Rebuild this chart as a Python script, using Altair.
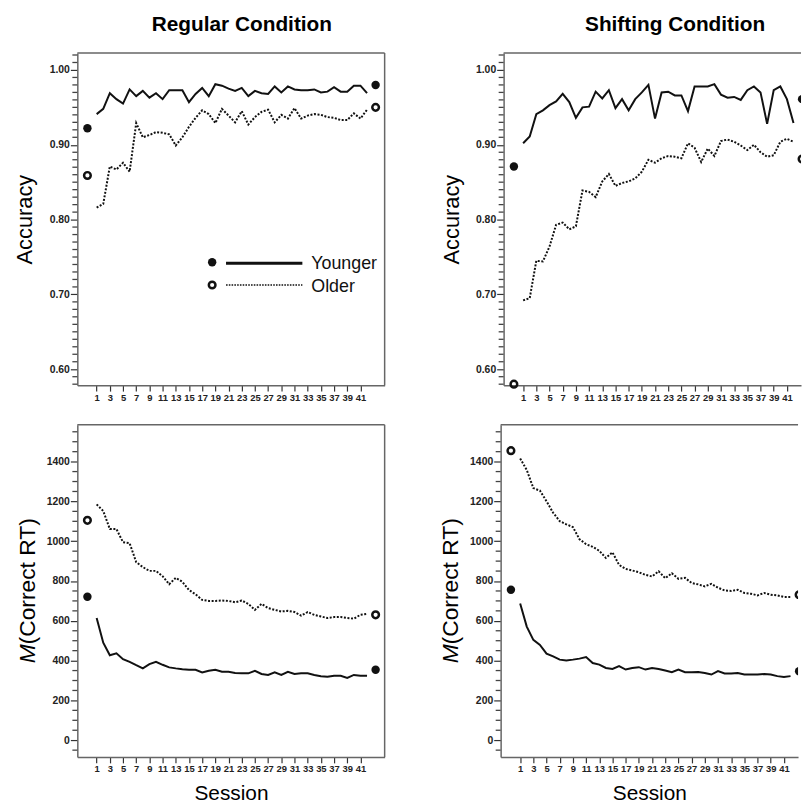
import altair as alt
import pandas as pd

# ---------------- data ----------------
sessions = list(range(1, 43))
x_tick_labels = list(range(1, 42, 2))
pre_x = -0.4
post_x = 43.3
group_labels = ["Younger", "Older"]

reg_acc_young = [0.941, 0.948, 0.969, 0.961, 0.955, 0.974, 0.965, 0.972, 0.963, 0.969,
                 0.961, 0.973, 0.973, 0.973, 0.957, 0.968, 0.976, 0.965, 0.981, 0.979,
                 0.975, 0.972, 0.976, 0.965, 0.972, 0.969, 0.968, 0.978, 0.970, 0.978,
                 0.974, 0.973, 0.973, 0.974, 0.970, 0.971, 0.977, 0.971, 0.971, 0.979,
                 0.979, 0.969]
reg_acc_old = [0.816, 0.821, 0.871, 0.867, 0.876, 0.864, 0.929, 0.910, 0.913, 0.917,
               0.916, 0.914, 0.899, 0.910, 0.924, 0.936, 0.946, 0.941, 0.929, 0.948,
               0.939, 0.930, 0.945, 0.927, 0.937, 0.944, 0.947, 0.930, 0.940, 0.935,
               0.949, 0.935, 0.939, 0.941, 0.940, 0.937, 0.936, 0.933, 0.933, 0.942,
               0.935, 0.947]
shift_acc_young = [0.902, 0.911, 0.941, 0.946, 0.953, 0.958, 0.968, 0.957, 0.936, 0.950,
                   0.951, 0.971, 0.962, 0.973, 0.949, 0.961, 0.946, 0.961, 0.970, 0.980,
                   0.935, 0.970, 0.971, 0.966, 0.966, 0.945, 0.978, 0.978, 0.978, 0.981,
                   0.967, 0.963, 0.964, 0.960, 0.973, 0.978, 0.970, 0.928, 0.973, 0.978,
                   0.961, 0.929]
shift_acc_old = [0.692, 0.695, 0.745, 0.744, 0.764, 0.793, 0.796, 0.787, 0.791, 0.839,
                 0.837, 0.830, 0.851, 0.861, 0.845, 0.849, 0.851, 0.855, 0.864, 0.880,
                 0.876, 0.882, 0.885, 0.884, 0.882, 0.902, 0.896, 0.877, 0.895, 0.885,
                 0.905, 0.907, 0.904, 0.899, 0.893, 0.900, 0.890, 0.884, 0.886, 0.904,
                 0.908, 0.904]
reg_rt_young = [614, 490, 427, 437, 407, 394, 377, 361, 382, 394,
                379, 366, 361, 357, 354, 354, 341, 349, 354, 344,
                344, 338, 336, 336, 349, 333, 328, 341, 328, 344,
                333, 336, 336, 328, 321, 319, 324, 324, 313, 328,
                324, 324]
reg_rt_old = [1185, 1152, 1061, 1061, 995, 990, 895, 870, 851, 851,
              824, 784, 816, 796, 755, 733, 705, 700, 700, 702,
              700, 693, 702, 685, 655, 685, 664, 655, 647, 650,
              644, 626, 644, 630, 622, 614, 619, 619, 614, 611,
              630, 635]
shift_rt_young = [687, 571, 504, 479, 435, 421, 405, 401, 405, 410,
                  418, 388, 380, 363, 358, 372, 355, 363, 367, 355,
                  363, 358, 350, 342, 355, 342, 342, 343, 338, 330,
                  347, 335, 335, 338, 330, 330, 330, 333, 330, 322,
                  318, 322]
shift_rt_old = [1416, 1358, 1267, 1254, 1201, 1143, 1101, 1085, 1071, 1010,
                985, 972, 952, 916, 944, 881, 861, 853, 844, 831,
                823, 849, 814, 839, 811, 816, 790, 783, 773, 786,
                766, 753, 750, 756, 740, 736, 728, 740, 731, 728,
                720, 720]

# pre / post markers: [younger, older]
reg_acc_pre = [0.922, 0.859]
reg_acc_post = [0.980, 0.950]
shift_acc_pre = [0.871, 0.580]
shift_acc_post = [0.961, 0.881]
reg_rt_pre = [721, 1105]
reg_rt_post = [354, 630]
shift_rt_pre = [756, 1455]
shift_rt_post = [347, 731]

# axis tick values
acc_major = [0.60, 0.70, 0.80, 0.90, 1.00]
acc_minor = [round(0.58 + 0.01 * i, 2) for i in range(45)]
rt_major = [0, 200, 400, 600, 800, 1000, 1200, 1400]
rt_minor = list(range(-50, 1551, 50))

# ---------------- style ----------------
TICK_FONT = "Liberation Sans Narrow, Arial Narrow, Liberation Sans, Arial, sans-serif"
TEXT_FONT = "Liberation Sans, Arial, Helvetica, sans-serif"
INK = "#111111"
FRAME = "#666666"
H = 335
W_LEFT = 310
W_RIGHT = 300
XDOM_LEFT = [-1.93, 44.67]
XDOM_RIGHT = [-1.96, 43.14]

one = pd.DataFrame({"k": [0]})


def panel(young, old, pre, post, kind, xdom, width, title, title_dx,
          show_xtitle, legend, frame_right, clip_post):
    if kind == "acc":
        ydom = [0.5787, 1.0226]
        majors, minors = acc_major, acc_minor
        fmt = ".2f"
        ytitle = "Accuracy"
    else:
        ydom = [-84, 1585]
        majors, minors = rt_major, rt_minor
        fmt = "d"
        ytitle = None

    yaxis = alt.Axis(
        values=majors, format=fmt, tickSize=7,
        title=ytitle, titleFont=TEXT_FONT, titleFontSize=22, titleFontWeight="normal",
        titleColor="black", titlePadding=11,
        labelFont=TICK_FONT, labelFontSize=10.5, labelFontWeight="bold", labelColor="#222222",
        labelPadding=1, labelOverlap=False, minExtent=30, maxExtent=30, grid=False,
        domainColor=FRAME, domainWidth=1.5, tickColor="#333333", tickWidth=1.2,
    )
    xaxis = alt.Axis(
        values=x_tick_labels, format="d",
        title="Session" if show_xtitle else None,
        titleFont=TEXT_FONT, titleFontSize=21, titleFontWeight="normal", titleColor="black",
        titlePadding=9,
        labelFont=TICK_FONT, labelFontSize=9.5, labelFontWeight="bold", labelColor="#222222",
        labelPadding=1, labelOverlap=False, labelFlush=False, tickSize=6, grid=False,
        domainColor=FRAME, domainWidth=1.5, tickColor="#333333", tickWidth=1.2,
    )
    yscale = alt.Scale(domain=ydom, nice=False, zero=False)
    X = alt.X("session:Q", scale=alt.Scale(domain=xdom, nice=False, zero=False), axis=xaxis)
    Y = alt.Y("v:Q", scale=yscale, axis=yaxis)

    df_y = pd.DataFrame({"session": sessions, "v": young})
    df_o = pd.DataFrame({"session": sessions, "v": old})
    df_minor = pd.DataFrame({"v": [m for m in minors if m not in majors]})
    layers = []
    layers.append(alt.Chart(one).mark_rule(color=FRAME, strokeWidth=1.5).encode(
        x=alt.value(0), x2=alt.value(width), y=alt.value(0)))
    if frame_right:
        layers.append(alt.Chart(one).mark_rule(color=FRAME, strokeWidth=1.5).encode(
            x=alt.value(width), y=alt.value(0), y2=alt.value(H)))
    layers.append(alt.Chart(df_minor).mark_tick(
        color="#444444", thickness=1.3, size=5, orient="horizontal", opacity=1,
        xOffset=-2.5).encode(x=alt.value(0), y=alt.Y("v:Q", scale=yscale, axis=yaxis)))
    layers.append(alt.Chart(df_y).mark_line(color=INK, strokeWidth=2).encode(X, Y))
    layers.append(alt.Chart(df_o).mark_line(color=INK, strokeWidth=2,
                                            strokeDash=[2, 1.6]).encode(X, Y))
    pre_y = pd.DataFrame({"session": [pre_x], "v": [pre[0]]})
    pre_o = pd.DataFrame({"session": [pre_x], "v": [pre[1]]})
    post_y = pd.DataFrame({"session": [post_x], "v": [post[0]]})
    post_o = pd.DataFrame({"session": [post_x], "v": [post[1]]})
    filled = dict(filled=True, shape="circle", size=72, color=INK, opacity=1)
    hollow = dict(filled=False, shape="circle", size=45, strokeWidth=2.5, color=INK, opacity=1)
    layers.append(alt.Chart(pre_y).mark_point(**filled).encode(X, Y))
    layers.append(alt.Chart(pre_o).mark_point(**hollow).encode(X, Y))
    if clip_post:
        layers.append(alt.Chart(post_y).mark_point(clip=True, **filled).encode(X, Y))
        layers.append(alt.Chart(post_o).mark_point(clip=True, **hollow).encode(X, Y))
    else:
        layers.append(alt.Chart(post_y).mark_point(**filled).encode(X, Y))
        layers.append(alt.Chart(post_o).mark_point(**hollow).encode(X, Y))

    if kind == "rt":
        layers.append(alt.Chart(one).mark_text(
            text="M", angle=270, align="left", baseline="middle", fontSize=23,
            fontStyle="italic", font=TEXT_FONT, color="black").encode(
            x=alt.value(-50), y=alt.value(H / 2 + 73)))
        layers.append(alt.Chart(one).mark_text(
            text="(Correct RT)", angle=270, align="left", baseline="middle", fontSize=23,
            font=TEXT_FONT, color="black").encode(
            x=alt.value(-50), y=alt.value(H / 2 + 73 - 19)))

    if legend:
        layers.append(alt.Chart(one).mark_point(**filled).encode(
            x=alt.value(136), y=alt.value(211)))
        layers.append(alt.Chart(one).mark_rule(color=INK, strokeWidth=3).encode(
            x=alt.value(150), x2=alt.value(227), y=alt.value(212)))
        layers.append(alt.Chart(one).mark_text(
            text=group_labels[0], align="left", baseline="middle", fontSize=18,
            font=TEXT_FONT, color=INK).encode(x=alt.value(236), y=alt.value(213)))
        layers.append(alt.Chart(one).mark_point(**hollow).encode(
            x=alt.value(136), y=alt.value(234)))
        layers.append(alt.Chart(one).mark_rule(color=INK, strokeWidth=1.6,
                                               strokeDash=[1.6, 1.2]).encode(
            x=alt.value(150), x2=alt.value(227), y=alt.value(234)))
        layers.append(alt.Chart(one).mark_text(
            text=group_labels[1], align="left", baseline="middle", fontSize=18,
            font=TEXT_FONT, color=INK).encode(x=alt.value(236), y=alt.value(236)))

    props = dict(width=width, height=H)
    if title:
        props["title"] = alt.TitleParams(
            text=title, font=TEXT_FONT, fontSize=21, fontWeight="bold", color="black",
            anchor="middle", frame="group", dx=title_dx, offset=17)
    return alt.layer(*layers).properties(**props)


tl = panel(reg_acc_young, reg_acc_old, reg_acc_pre, reg_acc_post, "acc", XDOM_LEFT, W_LEFT,
           "Regular Condition", 11, False, True, True, False)
tr = panel(shift_acc_young, shift_acc_old, shift_acc_pre, shift_acc_post, "acc", XDOM_RIGHT,
           W_RIGHT, "Shifting Condition", 23, False, False, False, True)
bl = panel(reg_rt_young, reg_rt_old, reg_rt_pre, reg_rt_post, "rt", XDOM_LEFT, W_LEFT,
           None, 0, True, False, True, False)
br = panel(shift_rt_young, shift_rt_old, shift_rt_pre, shift_rt_post, "rt", XDOM_RIGHT,
           W_RIGHT, None, 0, True, False, False, True)

row1 = alt.hconcat(tl, tr, spacing=53)
row2 = alt.hconcat(bl, br, spacing=53)
chart = alt.vconcat(row1, row2, spacing=21).properties(
    padding={"left": 13, "top": 10, "right": 0, "bottom": 0},
    background="white",
).configure_view(stroke="transparent")

chart.save("out.html", embed_options={"renderer": "svg", "actions": False})
